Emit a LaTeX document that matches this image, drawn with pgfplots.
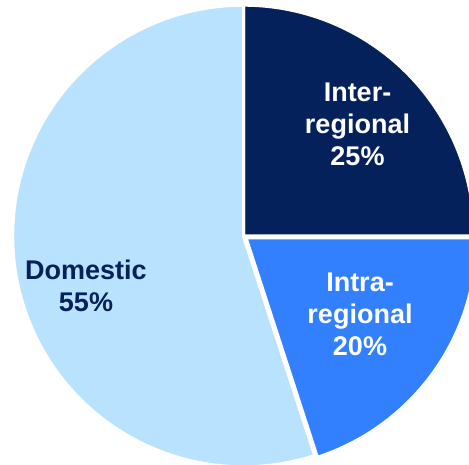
\documentclass[border=0pt]{standalone}
\usepackage{pgfplots}
\pgfplotsset{compat=1.18}
\usepackage{fontspec}
\setmainfont{Liberation Sans}

\definecolor{interCol}{RGB}{4,33,92}
\definecolor{intraCol}{RGB}{51,128,255}
\definecolor{domCol}{RGB}{184,226,253}

% shares in percent
\def\shareInter{25}
\def\shareIntra{20}
\def\shareDom{55}

\begin{document}
\begin{tikzpicture}
\begin{axis}[
  name=pie,
  x=1pt, y=1pt,
  scale only axis,
  xmin=-243.5, xmax=225.5,
  ymin=-229, ymax=236,
  hide axis,
  clip=true,
  samples=120,
]
% slices start at 12 o'clock and run clockwise
\pgfmathsetmacro{\aA}{90}
\pgfmathsetmacro{\aB}{90-3.6*\shareInter}
\pgfmathsetmacro{\aC}{\aB-3.6*\shareIntra}
\pgfmathsetmacro{\aD}{\aC-3.6*\shareDom}

\addplot[fill=interCol, draw=white, line width=3.4pt, data cs=polar, domain=\aB:\aA]
  (x,231) -- (axis cs:0,0) -- cycle;
% the intra-regional slice is pulled out a little
\addplot[fill=intraCol, draw=white, line width=3.4pt, data cs=polar, domain=\aC:\aB,
  xshift=2.4pt, yshift=-1.8pt]
  (x,231) -- (axis cs:0,0) -- cycle;
\addplot[fill=domCol, draw=white, line width=3.4pt, data cs=polar, domain=\aD:\aC]
  (x,231) -- (axis cs:0,0) -- cycle;

\begin{scope}[every node/.style={font=\fontsize{27}{32}\selectfont\bfseries, align=center}]
\node[text=white] at (axis cs:114,112) {Inter-\\regional\\25\%};
\node[text=white] at (axis cs:116.5,-78) {Intra-\\regional\\20\%};
\node[text=interCol] at (axis cs:-157.5,-50) {Domestic\\55\%};
\end{scope}
\end{axis}
% the page is exactly the plot area; slices running past it are cut off
\pgfresetboundingbox
\path[use as bounding box] (pie.south west) rectangle (pie.north east);
\end{tikzpicture}
\end{document}
